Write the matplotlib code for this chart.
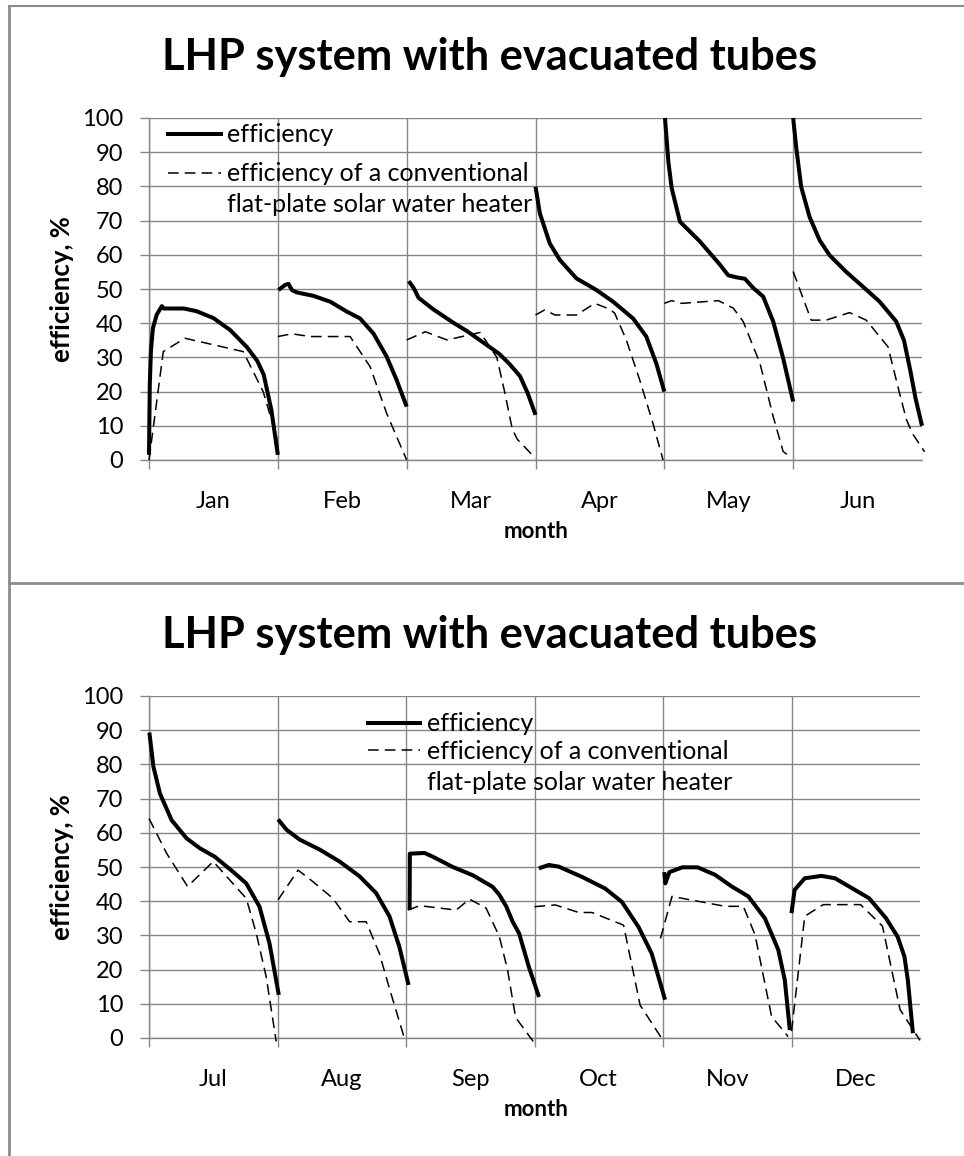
import matplotlib
matplotlib.use('Agg')
import matplotlib.pyplot as plt
from matplotlib.lines import Line2D

plt.rcParams['font.family'] = ['Lato', 'DejaVu Sans']

W, H = 964, 1156

title = 'LHP system with evacuated tubes'
months_top = ['Jan', 'Feb', 'Mar', 'Apr', 'May', 'Jun']
months_bottom = ['Jul', 'Aug', 'Sep', 'Oct', 'Nov', 'Dec']
y_ticks = list(range(0, 101, 10))

# each month: (position inside the month 0..1, efficiency %)
jan_lhp = [(0.0, 1.5), (0.006, 22), (0.015, 32), (0.03, 38.5), (0.06, 42.5), (0.1, 45), (0.115, 44.3),
           (0.27, 44.3), (0.37, 43.5), (0.5, 41.5), (0.63, 38), (0.76, 33), (0.84, 29), (0.89, 25),
           (0.95, 14.6), (1.0, 1.5)]
feb_lhp = [(0.005, 49.7), (0.057, 51.2), (0.083, 51.5), (0.109, 49.7), (0.147, 49), (0.276, 48),
           (0.406, 46.3), (0.535, 43.4), (0.638, 41.4), (0.742, 37), (0.845, 30.2), (0.922, 23.4),
           (1.0, 15.6)]
mar_lhp = [(0.016, 52.3), (0.054, 50.3), (0.093, 47.4), (0.209, 44), (0.364, 40.1), (0.468, 37.7),
           (0.6, 34.2), (0.72, 31), (0.8, 28), (0.88, 24.5), (0.94, 19.5), (1.0, 13.2)]
apr_lhp = [(0.0, 79.9), (0.034, 72.1), (0.111, 63.3), (0.189, 58.5), (0.318, 53.1), (0.473, 49.7),
           (0.602, 46.3), (0.757, 41.4), (0.86, 36.1), (0.938, 28.2), (1.0, 20)]
may_lhp = [(0.005, 100), (0.031, 87.3), (0.057, 79.5), (0.121, 69.7), (0.212, 66.3), (0.276, 63.9),
           (0.354, 60.5), (0.432, 57.1), (0.496, 54), (0.561, 53.4), (0.625, 53), (0.69, 50.3),
           (0.767, 47.8), (0.845, 40.5), (0.922, 29.8), (1.0, 17.1)]
jun_lhp = [(0.0, 100), (0.023, 91.6), (0.062, 79.9), (0.127, 71.1), (0.205, 64.3), (0.282, 59.9),
           (0.412, 55), (0.541, 50.7), (0.671, 46.3), (0.8, 40.5), (0.86, 35), (0.91, 26),
           (0.95, 18), (1.0, 10)]

jan_flat = [(0.0, 0), (0.111, 31.7), (0.279, 35.6), (0.731, 31.7), (0.886, 20), (0.99, 6.8), (1.0, 2)]
feb_flat = [(0.0, 36.1), (0.109, 36.9), (0.251, 36.1), (0.561, 36.1), (0.716, 27.3), (0.845, 13.6),
            (1.0, 0)]
mar_flat = [(0.0, 35.1), (0.145, 37.5), (0.313, 35.1), (0.571, 37.3), (0.7, 30), (0.76, 20),
            (0.82, 9), (0.86, 6), (1.0, 0.5)]
apr_flat = [(0.0, 42.4), (0.072, 43.9), (0.15, 42.4), (0.318, 42.4), (0.46, 45.8), (0.576, 44.1),
            (0.615, 42.9), (0.705, 35.1), (0.809, 23.4), (0.912, 10.7), (0.99, 0)]
may_flat = [(0.0, 45.8), (0.057, 46.6), (0.134, 45.8), (0.419, 46.6), (0.535, 44.4), (0.612, 40.5),
            (0.742, 28.3), (0.845, 12.7), (0.922, 2.5), (0.974, 1)]
jun_flat = [(0.0, 55.1), (0.14, 40.9), (0.256, 40.9), (0.438, 43.1), (0.567, 40.9), (0.736, 33.1),
            (0.826, 19.5), (0.88, 11.7), (0.93, 7.5), (1.02, 2.4)]

jul_lhp = [(0.003, 89.3), (0.034, 79.4), (0.085, 71.5), (0.176, 63.7), (0.292, 58.4), (0.395, 55.5),
           (0.512, 53), (0.654, 48.6), (0.757, 45.2), (0.86, 38.4), (0.938, 27.6), (1.01, 12.6)]
aug_lhp = [(0.005, 63.9), (0.07, 60.9), (0.173, 58), (0.328, 55.1), (0.483, 51.6), (0.638, 47.3),
           (0.767, 42.4), (0.871, 35.6), (0.948, 26.7), (1.02, 15.5)]
sep_lhp = [(0.028, 37.4), (0.03, 53.9), (0.145, 54.1), (0.209, 53), (0.364, 50), (0.519, 47.6),
           (0.674, 44.2), (0.724, 42), (0.78, 38.5), (0.83, 34), (0.88, 30.6), (0.956, 20.8),
           (1.035, 12)]
oct_lhp = [(0.034, 49.6), (0.111, 50.6), (0.189, 50.1), (0.37, 47.1), (0.55, 43.7), (0.68, 39.8),
           (0.809, 32.5), (0.912, 24.7), (1.016, 11.2)]
nov_lhp = [(0.01, 48.5), (0.018, 45.2), (0.05, 48.5), (0.15, 49.9), (0.27, 49.9), (0.406, 47.7),
           (0.535, 44.3), (0.664, 41.4), (0.793, 35), (0.897, 25.8), (0.948, 16.9), (0.987, 2.3)]
dec_lhp = [(0.0, 36.5), (0.024, 43.3), (0.103, 46.7), (0.234, 47.4), (0.339, 46.7), (0.471, 43.8),
           (0.603, 40.9), (0.734, 35.1), (0.826, 29.6), (0.879, 23.8), (0.905, 17), (0.945, 1.4)]

jul_flat = [(0.0, 64.2), (0.137, 54), (0.3, 44.3), (0.5, 51.6), (0.757, 40.8), (0.835, 30.6),
            (0.912, 17.9), (0.99, -1)]
aug_flat = [(0.005, 40.4), (0.16, 49.1), (0.276, 45.7), (0.432, 40.8), (0.561, 34), (0.69, 34),
            (0.793, 24.7), (0.871, 14.5), (0.995, -1)]
sep_flat = [(0.016, 37.4), (0.106, 38.7), (0.39, 37.4), (0.494, 40.6), (0.623, 38), (0.726, 29.7),
            (0.79, 20), (0.853, 6), (0.99, -1)]
oct_flat = [(0.0, 38.4), (0.163, 38.9), (0.344, 36.7), (0.447, 36.7), (0.693, 33), (0.822, 9.6),
            (0.99, -0.1)]
nov_flat = [(-0.02, 29.1), (0.07, 41.4), (0.483, 38.5), (0.625, 38.5), (0.716, 30.2), (0.845, 6.3),
            (0.974, 0.4)]
dec_flat = [(0.0, 2), (0.103, 35.6), (0.247, 39), (0.537, 39), (0.708, 32.7), (0.845, 8.3), (1.0, -0.7)]

top_lhp = [jan_lhp, feb_lhp, mar_lhp, apr_lhp, may_lhp, jun_lhp]
top_flat = [jan_flat, feb_flat, mar_flat, apr_flat, may_flat, jun_flat]
bottom_lhp = [jul_lhp, aug_lhp, sep_lhp, oct_lhp, nov_lhp, dec_lhp]
bottom_flat = [jul_flat, aug_flat, sep_flat, oct_flat, nov_flat, dec_flat]

lbl_eff = 'efficiency'
lbl_flat = ['efficiency of a conventional', 'flat-plate solar water heater']

grid_c = '#868686'
frame_c = '#8c8c8c'
dash = (0, (7, 4))


def fx(px):
    return px / W


def fy(py):
    return 1 - py / H


fig = plt.figure(figsize=(W / 100, H / 100), dpi=100)

# panel frames
fig.add_artist(Line2D([fx(9), fx(9)], [fy(6), 0], color=frame_c, lw=2))
fig.add_artist(Line2D([fx(9), 1], [fy(6), fy(6)], color=frame_c, lw=1.5))
fig.add_artist(Line2D([fx(9), 1], [fy(583), fy(583)], color=frame_c, lw=2))

leg_kw = dict(loc='upper left', frameon=False, fontsize=18, handlelength=2.1, handletextpad=0.25,
              labelspacing=0.3, borderpad=0, borderaxespad=0)


def draw_panel(top_px, bottom_px, right_px, months, lhp, flat, leg_x, leg_y1, leg_y2):
    ax = fig.add_axes([fx(149), fy(bottom_px), fx(right_px) - fx(149), fy(top_px) - fy(bottom_px)])
    for i, pts in enumerate(lhp):
        ax.plot([i + p[0] for p in pts], [p[1] for p in pts], color='black', lw=2.9,
                solid_capstyle='butt', solid_joinstyle='round', clip_on=False, zorder=4)
    for i, pts in enumerate(flat):
        ax.plot([i + p[0] for p in pts], [p[1] for p in pts], color='black', lw=1.1,
                linestyle=dash, clip_on=False, zorder=3)

    ax.set_xlim(0, 6)
    ax.set_ylim(0, 100)
    ax.set_xticks(range(6))
    ax.set_xticklabels([])
    ax.set_xticks([i + 0.5 for i in range(6)], minor=True)
    ax.set_xticklabels(months, minor=True)
    ax.tick_params(axis='x', which='major', length=6.5, width=1, color=grid_c)
    ax.tick_params(axis='x', which='minor', length=0, pad=22, labelsize=17)
    ax.set_yticks(y_ticks)
    ax.tick_params(axis='y', length=6.5, width=1, color=grid_c, pad=12, labelsize=17)
    ax.grid(True, which='major', color=grid_c, lw=1.0)
    ax.set_axisbelow(True)
    for s in ['top', 'right']:
        ax.spines[s].set_visible(False)
    for s in ['left', 'bottom']:
        ax.spines[s].set_color(grid_c)
        ax.spines[s].set_linewidth(1.0)

    # legend: solid entry on its own row, dashed entry with a two-line label below it
    leg1 = ax.legend([Line2D([], [], color='black', lw=2.9)], [lbl_eff],
                     bbox_to_anchor=(leg_x, leg_y1), **leg_kw)
    ax.add_artist(leg1)
    ax.legend([Line2D([], [], color='black', lw=1.1, linestyle=dash), Line2D([], [], linestyle='none')],
              lbl_flat, bbox_to_anchor=(leg_x, leg_y2), **leg_kw)
    return ax


ax1 = draw_panel(118, 460, 922, months_top, top_lhp, top_flat, 0.0246, 0.984, 0.870)
ax2 = draw_panel(696, 1038, 920, months_bottom, bottom_lhp, bottom_flat, 0.284, 0.952, 0.871)

for base, top_px, bottom_px in [(70, 118, 460), (648, 696, 1038)]:
    fig.text(fx(490), fy(base), title, ha='center', va='baseline', fontsize=31.2, fontweight='bold')
    fig.text(fx(536), fy(bottom_px + 72), 'month', ha='center', va='center', fontsize=16,
             fontweight='bold')
    fig.text(fx(62), fy((top_px + bottom_px) / 2), 'efficiency, %', ha='center', va='center',
             rotation=90, fontsize=18.5, fontweight='bold')

fig.savefig('out.png', dpi=100)
